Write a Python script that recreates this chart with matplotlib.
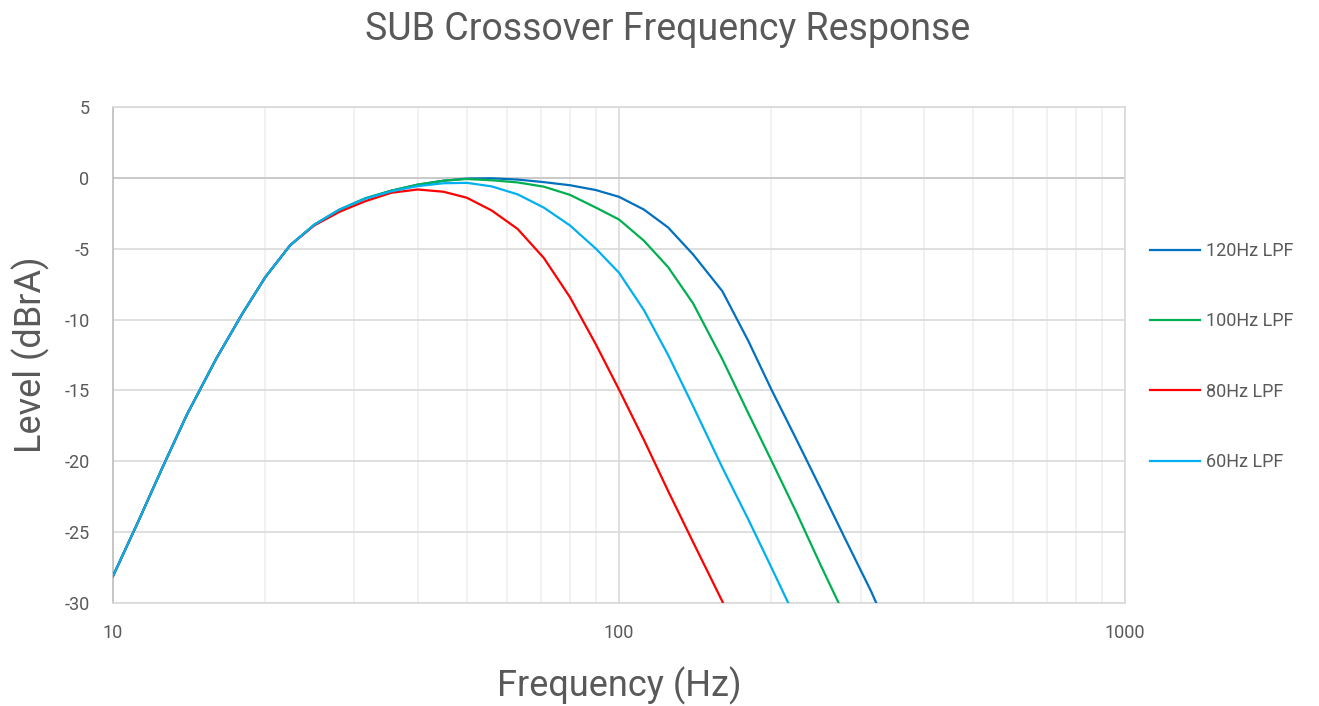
import matplotlib
matplotlib.use("Agg")
import matplotlib.pyplot as plt
from matplotlib.ticker import LogLocator, FixedLocator, NullFormatter

plt.rcParams['font.family'] = ['Roboto', 'DejaVu Sans']
plt.rcParams['axes.unicode_minus'] = False

# 1/6-octave frequencies (Hz)
freqs = [10, 11.2, 12.5, 14, 16, 18, 20, 22.4, 25, 28, 31.5, 35.5, 40, 45, 50, 56, 63,
         71, 80, 90, 100, 112, 125, 140, 160, 180, 200, 224, 250, 280, 315, 355, 400]

# Level in dBrA
lpf_120 = [-28.1, -24.3, -20.5, -16.7, -12.75, -9.6, -7.0, -4.75, -3.3, -2.25, -1.45, -0.9, -0.48,
           -0.2, -0.05, -0.03, -0.12, -0.3, -0.52, -0.86, -1.34, -2.24, -3.5, -5.4, -8.0, -11.5,
           -14.94, -18.45, -21.9, -25.5, -29.2, -33.4, -37.5]
lpf_100 = [-28.1, -24.3, -20.5, -16.7, -12.75, -9.6, -7.0, -4.75, -3.3, -2.25, -1.45, -0.9, -0.48,
           -0.2, -0.08, -0.17, -0.32, -0.62, -1.2, -2.1, -2.94, -4.44, -6.3, -8.85, -12.8, -16.6,
           -19.95, -23.6, -27.3, -31.0, -35.0, -39.0, -43.0]
lpf_80 = [-28.1, -24.3, -20.5, -16.7, -12.75, -9.6, -7.0, -4.75, -3.35, -2.4, -1.65, -1.05, -0.82,
          -0.98, -1.4, -2.3, -3.6, -5.65, -8.43, -11.76, -14.95, -18.5, -22.1, -25.7, -29.9, -34.0,
          -38.0, -42.0, -46.0, -50.0, -54.0, -58.0, -62.0]
lpf_60 = [-28.1, -24.3, -20.5, -16.7, -12.75, -9.6, -7.0, -4.75, -3.3, -2.25, -1.47, -0.95, -0.58,
          -0.38, -0.35, -0.6, -1.16, -2.1, -3.36, -5.0, -6.7, -9.34, -12.5, -16.1, -20.45, -24.1,
          -27.5, -31.2, -34.5, -38.0, -42.0, -46.0, -50.0]

series = [
    ("120Hz LPF", lpf_120, "#0070C0"),
    ("100Hz LPF", lpf_100, "#00B050"),
    ("80Hz LPF", lpf_80, "#FF0000"),
    ("60Hz LPF", lpf_60, "#00B0F0"),
]

TEXT = "#595959"

fig = plt.figure(figsize=(13.19, 7.06), dpi=100)
ax = fig.add_axes([0.0857, 0.146, 0.7673, 0.7024])

for label, vals, color in series:
    ax.plot(freqs, vals, color=color, linewidth=1.6, label=label, zorder=3)

ax.set_xscale("log")
ax.set_xlim(10, 1000)
ax.set_ylim(-30, 5)
ax.set_yticks(range(-30, 6, 5))
ax.xaxis.set_major_locator(FixedLocator([10, 100, 1000]))
ax.xaxis.set_minor_locator(LogLocator(base=10, subs=range(2, 10)))
ax.xaxis.set_minor_formatter(NullFormatter())
ax.set_xticklabels(["10", "100", "1000"])

ax.grid(True, which="major", color="#d9d9d9", linewidth=1.2, zorder=0)
ax.grid(True, which="minor", axis="x", color="#efefef", linewidth=1.2, zorder=0)
ax.axhline(0, color="#c8c8c8", linewidth=1.3, zorder=1)
ax.set_axisbelow(True)
for sp in ax.spines.values():
    sp.set_color("#d9d9d9")
    sp.set_linewidth(1.2)
ax.spines["left"].set_color("#bfbfbf")

ax.tick_params(which="both", length=0, colors=TEXT, labelsize=13)
ax.tick_params(axis="y", pad=17)
ax.tick_params(axis="x", pad=15)

fig.suptitle("SUB Crossover Frequency Response", x=0.506, y=0.985, fontsize=27, color=TEXT)
ax.set_xlabel("Frequency (Hz)", fontsize=26, color=TEXT, labelpad=18)
ax.set_ylabel("Level (dBrA)", fontsize=26, color=TEXT, labelpad=10)

leg = ax.legend(loc="center left", bbox_to_anchor=(1.017, 0.497), frameon=False,
                fontsize=13, labelspacing=2.9, handlelength=2.8,
                handletextpad=0.35, borderaxespad=0)
for t in leg.get_texts():
    t.set_color(TEXT)

fig.savefig("out.png", dpi=100)
